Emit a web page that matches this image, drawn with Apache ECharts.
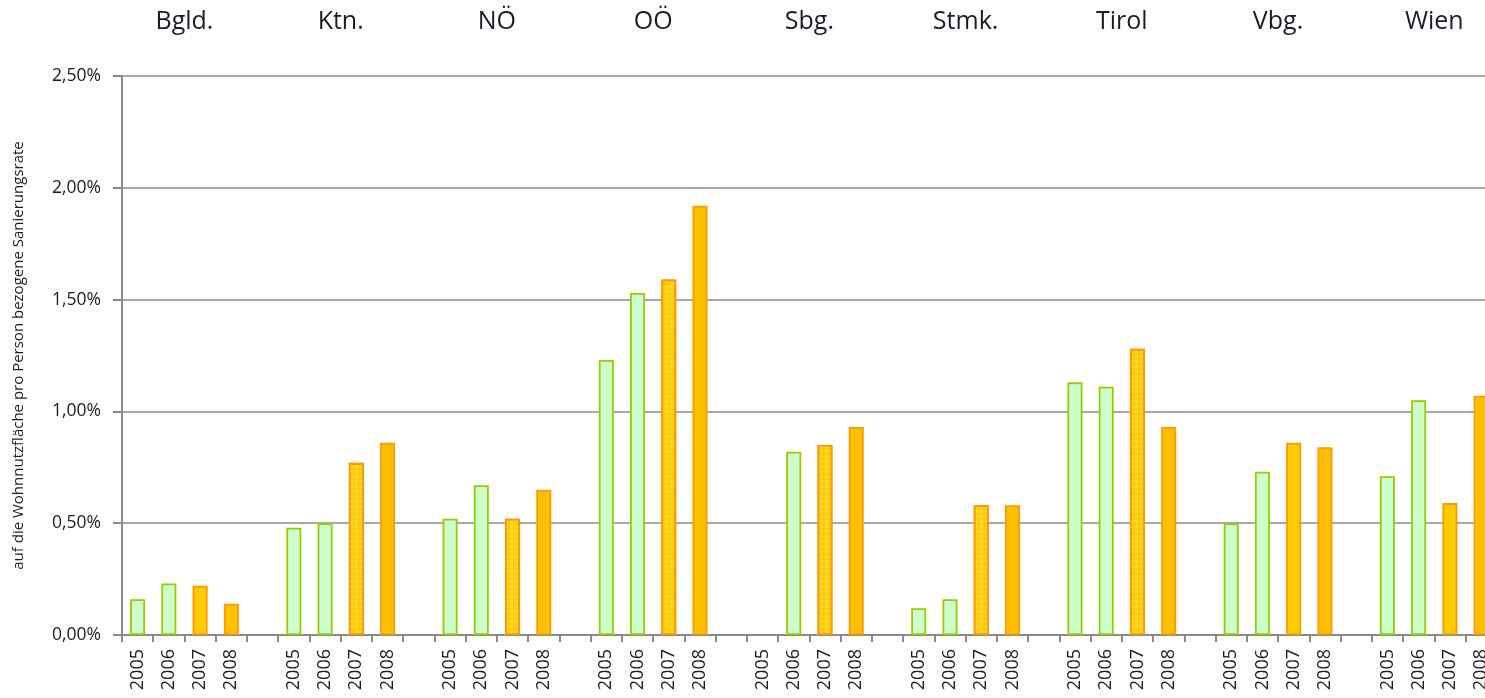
<!DOCTYPE html>
<html>
<head>
<meta charset="utf-8">
<script src="https://cdn.jsdelivr.net/npm/echarts@6/dist/echarts.min.js"></script>
<style>
  html, body { margin: 0; padding: 0; background: #fff; }
  #chart { width: 1485px; height: 698px; }
</style>
</head>
<body>
<div id="chart"></div>
<script>
// Sanierungsrate per Bundesland, 2005-2008 (in %)
const regions = ['Bgld.', 'Ktn.', 'NÖ', 'OÖ', 'Sbg.', 'Stmk.', 'Tirol', 'Vbg.', 'Wien'];
const years = ['2005', '2006', '2007', '2008'];
const rate2005 = [0.16, 0.48, 0.52, 1.23, null, 0.12, 1.13, 0.50, 0.71];
const rate2006 = [0.23, 0.50, 0.67, 1.53, 0.82, 0.16, 1.11, 0.73, 1.05];
const rate2007 = [0.22, 0.77, 0.52, 1.59, 0.85, 0.58, 1.28, 0.86, 0.59];
const rate2008 = [0.14, 0.86, 0.65, 1.92, 0.93, 0.58, 0.93, 0.84, 1.07];
const hatched2007 = [false, true, true, true, true, true, true, false, false];

const font = 'Open Sans';
const textColor = '#1c1c28';

const greenStyle = { color: '#ccffcc', borderColor: '#99cc00', borderWidth: 1.8 };
const orange2007 = { color: '#ffcc00', borderColor: '#ff9900', borderWidth: 1.8 };
const orange2008 = { color: '#ffc000', borderColor: '#ff9900', borderWidth: 1.8 };
const hatch = {
  symbol: 'rect',
  symbolSize: 1,
  color: 'rgba(255, 225, 110, 0.55)',
  dashArrayX: [3, 2],
  dashArrayY: [3, 2],
  rotation: 0
};

// 4 years + 1 empty slot per region
const categories = [];
const barData = [];
regions.forEach((r, i) => {
  const vals = [rate2005[i], rate2006[i], rate2007[i], rate2008[i]];
  years.forEach((y, j) => {
    categories.push(y);
    let style;
    if (j < 2) style = greenStyle;
    else if (j === 2) style = hatched2007[i] ? Object.assign({}, orange2007, { decal: hatch }) : orange2007;
    else style = orange2008;
    barData.push({ value: vals[j], itemStyle: style });
  });
  categories.push('');
  barData.push({ value: null });
});

const slot = 1406 / categories.length;

var chartDom = document.getElementById('chart');
var myChart = echarts.init(chartDom);
var option = {
  animation: false,
  backgroundColor: '#fff',
  grid: [
    { left: 122, top: 76, width: 1406, height: 559, outerBoundsMode: 'none' },
    { left: 122 - slot / 2, top: 44, width: 1406, height: 1, outerBoundsMode: 'none' }
  ],
  xAxis: [
    {
      type: 'category',
      gridIndex: 0,
      data: categories,
      axisLine: { lineStyle: { color: '#8c8c8c', width: 2 } },
      axisTick: { show: true, interval: 0, length: 7, lineStyle: { color: '#8c8c8c', width: 2 } },
      axisLabel: {
        interval: 0,
        rotate: 90,
        margin: 14,
        fontFamily: font,
        fontSize: 18,
        color: textColor
      }
    },
    {
      type: 'category',
      gridIndex: 1,
      position: 'top',
      data: regions,
      axisLine: { show: false },
      axisTick: { show: false },
      axisLabel: {
        interval: 0,
        margin: 10,
        fontFamily: font,
        fontSize: 25,
        color: textColor
      }
    }
  ],
  yAxis: [
    {
      type: 'value',
      gridIndex: 0,
      min: 0,
      max: 2.5,
      interval: 0.5,
      name: 'auf die Wohnnutzfläche pro Person bezogene Sanierungsrate',
      nameLocation: 'middle',
      nameGap: 96,
      nameTextStyle: { fontFamily: font, fontSize: 15, color: textColor },
      axisLine: { show: true, lineStyle: { color: '#8c8c8c', width: 2 } },
      axisTick: { show: true, length: 9, lineStyle: { color: '#8c8c8c', width: 2 } },
      splitLine: { lineStyle: { color: '#8c8c8c', width: 1.5 } },
      axisLabel: {
        margin: 21,
        fontFamily: font,
        fontSize: 17.5,
        color: textColor,
        formatter: (v) => v.toFixed(2).replace('.', ',') + '%'
      }
    },
    { type: 'value', gridIndex: 1, show: false }
  ],
  series: [
    {
      name: 'Sanierungsrate',
      type: 'bar',
      xAxisIndex: 0,
      yAxisIndex: 0,
      barWidth: 15,
      data: barData
    }
  ]
};
option && myChart.setOption(option);
</script>
</body>
</html>
